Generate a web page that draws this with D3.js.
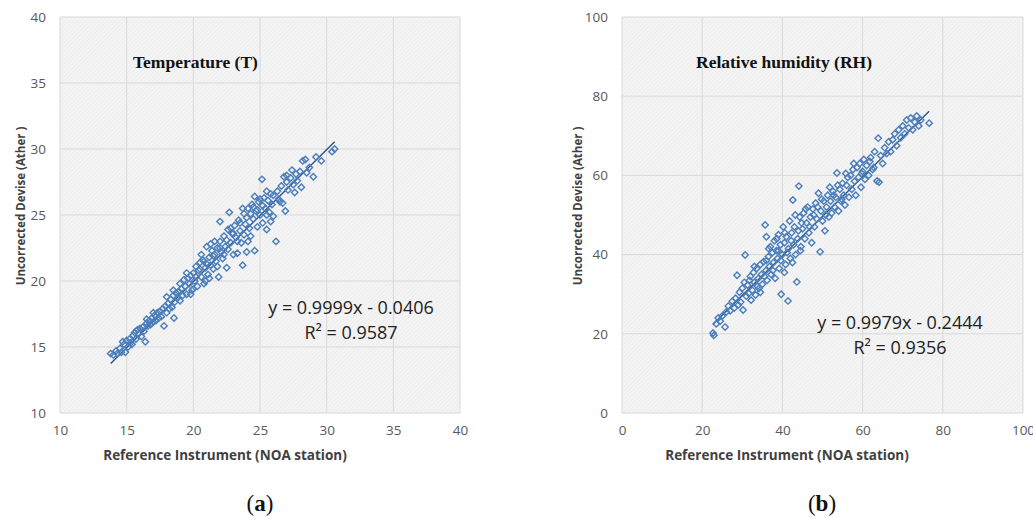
<!DOCTYPE html>
<html><head><meta charset="utf-8">
<script src="https://cdn.jsdelivr.net/npm/d3@7"></script>
<style>
body{margin:0;background:#fff;}
svg{display:block;}
</style></head>
<body>
<svg id="c" width="1033" height="518"></svg>
<script>
// ---------------- DATA ----------------
const tempTitle = "Temperature (T)";
const humTitle = "Relative humidity (RH)";
const xAxisTitle = "Reference Instrument (NOA station)";
const yAxisTitle = "Uncorrected Devise (Ather )";
const tempTicks = [10, 15, 20, 25, 30, 35, 40];
const humTicks = [0, 20, 40, 60, 80, 100];
const tempFit = {slope: 0.9999, intercept: -0.0406, r2: 0.9587, x0: 13.8, x1: 30.6};
const humFit = {slope: 0.9979, intercept: -0.2444, r2: 0.9356, x0: 22.7, x1: 76.6};
const tempEq = ["y = 0.9999x - 0.0406", "R² = 0.9587"];
const humEq = ["y = 0.9979x - 0.2444", "R² = 0.9356"];
const captions = ["a", "b"];

const tempX = [13.8,14.0,14.2,14.3,14.5,14.6,14.8,14.9,15.0,15.1,15.2,15.3,15.5,15.6,15.7,15.8,15.9,16.0,16.1,16.2,16.3,16.4,16.5,16.6,16.7,16.8,16.9,17.0,17.1,17.2,17.3,17.4,17.5,17.6,17.7,17.8,17.9,18.0,18.1,18.2,18.3,18.4,18.5,18.55,18.6,18.7,18.8,18.9,19.0,19.1,19.2,19.3,19.4,19.5,19.6,19.7,19.8,19.9,20.0,20.1,20.2,20.3,20.4,20.5,20.6,20.7,20.8,20.9,21.0,21.1,21.2,21.3,21.4,21.5,21.6,21.7,21.8,21.9,22.0,22.1,22.2,22.3,22.4,22.5,22.6,22.7,22.8,22.9,23.0,23.1,23.2,23.3,23.4,23.5,23.6,23.7,23.8,23.9,24.0,24.1,24.2,24.3,24.4,24.5,24.6,24.7,24.8,24.9,25.0,25.15,25.2,25.3,25.4,25.5,25.6,25.7,25.8,25.9,26.0,26.2,26.3,26.4,26.6,26.7,26.9,27.0,27.1,27.3,27.5,27.6,27.7,27.8,28.0,28.1,28.2,28.4,28.5,28.7,29.0,29.2,29.6,30.4,30.6,
19.0,19.5,20.0,20.2,20.5,20.8,21.0,21.2,21.5,21.8,22.0,22.3,22.5,22.8,23.0,23.3,23.5,23.8,24.0,24.3,24.5,24.8,25.0,25.2,25.5,25.8,26.0,26.5,27.0,27.4,22.0,21.6,21.3,20.6,23.7,24.6,25.5,26.8,18.0,18.5,17.0,16.5,15.4,14.7,19.8,20.9,22.6,24.1];
const tempY = [14.5,14.4,14.7,14.5,14.9,14.6,15.2,14.6,15.5,15.0,15.6,15.3,15.9,16.1,15.6,16.3,16.0,16.4,15.8,16.5,16.2,15.4,16.8,16.6,17.0,16.7,17.2,16.9,17.4,17.0,17.6,17.2,17.7,17.3,17.9,16.6,18.1,17.6,18.3,17.9,18.6,18.0,18.9,17.2,18.4,19.1,18.7,19.2,18.5,19.4,18.9,20.1,19.6,19.0,20.2,19.8,20.4,19.3,20.6,20.0,21.1,19.6,20.8,21.4,20.3,21.6,19.8,21.0,22.6,20.5,21.8,21.2,22.3,20.9,22.0,21.5,22.5,20.3,23.0,22.2,21.7,23.4,22.6,21.0,23.9,25.2,22.9,23.6,22.0,24.2,23.3,22.1,24.6,23.8,22.9,21.2,25.1,24.3,22.2,25.5,24.0,23.4,25.8,24.7,22.3,25.3,24.1,26.0,25.0,27.7,24.4,26.3,25.5,23.9,26.1,25.2,26.6,25.8,24.9,23.0,26.8,26.2,27.2,25.9,25.3,27.5,26.9,27.8,27.3,26.7,28.1,27.6,28.3,27.1,29.1,29.2,28.2,28.6,27.9,29.4,29.1,29.8,30.0,
19.8,20.6,19.4,20.3,20.9,21.5,21.3,20.2,21.9,21.1,22.5,22.0,23.1,24.0,23.6,23.0,24.4,23.5,24.8,25.1,25.6,25.4,26.2,25.7,25.0,24.5,26.5,26.0,28.0,28.4,24.5,23.0,22.8,22.0,25.5,26.4,26.8,27.9,18.8,19.3,17.6,17.1,15.2,15.4,19.0,20.0,22.4,23.0];

const humX = [22.7,22.9,23.5,24.0,24.5,25.0,25.7,26.0,26.5,27.0,27.5,28.0,28.3,28.7,29.0,29.3,29.6,30.0,30.2,30.5,30.7,31.0,31.3,31.6,32.0,32.2,32.5,32.8,33.0,33.3,33.6,34.0,34.2,34.5,34.8,35.0,35.3,35.7,35.9,36.0,36.2,36.5,36.8,37.0,37.2,37.5,37.8,38.0,38.2,38.5,38.8,39.0,39.2,39.5,39.7,40.0,40.2,40.5,40.8,41.0,41.4,41.5,41.8,42.0,42.3,42.6,42.8,43.0,43.3,43.6,43.8,44.1,44.3,44.6,45.0,45.3,45.6,46.0,46.3,46.6,47.0,47.3,47.6,48.0,48.3,48.6,49.0,49.4,49.6,50.0,50.3,50.6,51.0,51.3,51.6,52.0,52.3,52.6,53.0,53.3,53.6,54.0,54.3,54.6,55.0,55.3,55.6,56.0,56.3,56.6,57.0,57.3,57.6,58.0,58.3,58.6,59.0,59.3,59.6,60.0,60.3,60.6,61.0,61.5,62.0,62.5,63.0,63.6,63.9,64.1,64.5,65.0,65.5,66.0,66.5,67.0,67.5,68.0,68.5,69.0,69.5,70.0,70.5,71.0,71.5,72.0,72.5,73.0,73.5,74.0,74.5,76.6,
31.8,33.8,35.5,36.6,37.6,38.6,39.6,40.6,41.2,42.2,43.2,44.0,44.8,45.8,46.8,47.8,48.8,49.8,50.8,51.8,52.8,53.8,54.8,55.8,57.8,59.8,61.8,62.8,33.0,34.5,36.0,39.0,40.5,42.5,44.5];
const humY = [20.2,19.6,22.5,24.0,23.2,24.5,21.7,25.5,27.0,25.8,28.2,26.5,29.0,34.8,27.3,30.5,28.0,31.5,26.0,33.0,39.9,29.5,32.3,30.2,34.5,28.5,31.0,35.5,33.0,29.8,36.5,34.0,31.5,37.5,35.0,32.5,38.2,47.5,36.0,44.5,33.5,39.5,37.0,42.0,35.0,40.5,38.0,43.5,34.0,41.0,39.0,45.0,36.5,42.5,30.0,40.0,47.0,43.0,37.5,44.5,28.3,41.5,48.5,39.0,45.5,53.8,42.5,47.0,40.0,33.1,44.0,57.3,49.5,42.0,46.5,50.5,44.0,48.0,52.0,45.5,49.5,43.0,51.5,47.0,53.0,49.0,55.5,40.7,51.0,48.5,53.5,46.0,52.0,55.0,49.5,53.5,50.5,56.0,52.0,54.5,60.6,51.0,56.5,53.5,58.0,55.0,52.5,57.5,59.5,54.5,60.0,56.5,61.5,58.5,55.0,62.0,59.5,63.0,57.0,61.0,64.0,59.0,62.5,60.0,64.5,61.5,66.0,58.6,69.4,58.3,65.0,63.0,67.0,65.5,68.5,66.0,69.0,70.5,67.5,71.5,69.5,72.5,70.5,74.0,72.0,74.5,71.5,73.5,75.0,72.5,74.0,73.2,
33.5,32.0,34.5,41.5,36.0,44.0,38.5,45.5,40.5,43.5,50.0,46.0,48.0,51.5,47.0,50.0,52.0,54.0,50.0,57.0,55.0,57.5,54.0,60.5,63.0,60.5,63.5,62.0,37.0,30.5,38.5,41.0,35.5,38.0,41.0];

// ---------------- DRAW ----------------
const svg = d3.select("#c");
const FONT = "'Open Sans', 'Liberation Sans', sans-serif";
const SERIF = "'Liberation Serif', 'DejaVu Serif', serif";

const defs = svg.append("defs");
const pat = defs.append("pattern").attr("id","hatch").attr("patternUnits","userSpaceOnUse")
  .attr("width",3).attr("height",3).attr("patternTransform","rotate(45)");
pat.append("rect").attr("width",3).attr("height",3).attr("fill","#f4f4f4");
pat.append("line").attr("x1",0).attr("y1",0).attr("x2",0).attr("y2",3)
  .attr("stroke","#e6e6e6").attr("stroke-width",1);

function panel(cfg){
  const x = d3.scaleLinear().domain(cfg.domain).range([cfg.left, cfg.right]);
  const y = d3.scaleLinear().domain(cfg.domain).range([cfg.bottom, cfg.top]);
  const g = svg.append("g");

  g.append("rect").attr("x",cfg.left).attr("y",cfg.top)
    .attr("width",cfg.right-cfg.left).attr("height",cfg.bottom-cfg.top)
    .attr("fill","url(#hatch)");

  // gridlines
  g.append("g").selectAll("line").data(cfg.ticks).join("line")
    .attr("x1",d=>x(d)).attr("x2",d=>x(d)).attr("y1",cfg.top).attr("y2",cfg.bottom)
    .attr("stroke","#d9d9d9").attr("stroke-width",1);
  g.append("g").selectAll("line").data(cfg.ticks).join("line")
    .attr("y1",d=>y(d)).attr("y2",d=>y(d)).attr("x1",cfg.left).attr("x2",cfg.right)
    .attr("stroke","#d9d9d9").attr("stroke-width",1);

  // axes (labels only)
  const xa = g.append("g").attr("transform",`translate(0,${cfg.bottom})`)
    .call(d3.axisBottom(x).tickValues(cfg.ticks).tickSize(0).tickPadding(12));
  const ya = g.append("g").attr("transform",`translate(${cfg.left},0)`)
    .call(d3.axisLeft(y).tickValues(cfg.ticks).tickSize(0).tickPadding(14));
  [xa,ya].forEach(a=>{
    a.select(".domain").remove();
    a.selectAll("text").attr("font-family",FONT).attr("font-size",13.5).attr("fill","#595959");
  });

  // trendline
  const f = cfg.fit;
  g.append("line")
    .attr("x1",x(f.x0)).attr("y1",y(f.slope*f.x0+f.intercept))
    .attr("x2",x(f.x1)).attr("y2",y(f.slope*f.x1+f.intercept))
    .attr("stroke","#2e4f86").attr("stroke-width",1.4);

  // points (open diamonds)
  const pts = cfg.xs.map((v,i)=>[v,cfg.ys[i]]);
  const s = 3.2;
  g.append("g").selectAll("path").data(pts).join("path")
    .attr("d",d=>{const cx=x(d[0]), cy=y(d[1]);
      return `M${cx},${cy-s}L${cx+s},${cy}L${cx},${cy+s}L${cx-s},${cy}Z`;})
    .attr("fill","none").attr("stroke","#4a7ebb").attr("stroke-width",1.4);

  // chart title
  g.append("text").attr("x",cfg.titleX).attr("y",68).text(cfg.title)
    .attr("font-family",SERIF).attr("font-weight","bold").attr("font-size",17.5).attr("fill","#111");

  // equation
  g.append("text").attr("x",cfg.eqX).attr("y",cfg.eqY).attr("text-anchor","middle")
    .attr("font-family",FONT).attr("font-size",18).attr("fill","#222").text(cfg.eq[0]);
  g.append("text").attr("x",cfg.eqX).attr("y",cfg.eqY+25).attr("text-anchor","middle")
    .attr("font-family",FONT).attr("font-size",18).attr("fill","#222").text(cfg.eq[1]);

  // axis titles
  g.append("text").attr("x",cfg.xTitleX).attr("y",460).attr("text-anchor","middle")
    .attr("font-family",FONT).attr("font-weight","bold").attr("font-size",13.5).attr("fill","#404040")
    .text(xAxisTitle);
  g.append("text").attr("transform",`translate(${cfg.yTitleX},206) rotate(-90)`).attr("text-anchor","middle")
    .attr("font-family",FONT).attr("font-weight","bold").attr("font-size",11.5).attr("fill","#404040")
    .text(yAxisTitle);

  // caption
  const cap = g.append("text").attr("x",cfg.capX).attr("y",511).attr("text-anchor","middle")
    .attr("font-family",SERIF).attr("font-size",23).attr("fill","#111");
  cap.append("tspan").text("(");
  cap.append("tspan").attr("font-weight","bold").text(cfg.cap);
  cap.append("tspan").text(")");
}

panel({domain:[10,40], ticks:tempTicks, left:60, right:460, top:17, bottom:413,
  xs:tempX, ys:tempY, fit:tempFit, title:tempTitle, titleX:133, eq:tempEq, eqX:351, eqY:314,
  xTitleX:225, yTitleX:25, capX:260, cap:captions[0]});
panel({domain:[0,100], ticks:humTicks, left:622, right:1023, top:17, bottom:413,
  xs:humX, ys:humY, fit:humFit, title:humTitle, titleX:696, eq:humEq, eqX:900, eqY:329,
  xTitleX:787, yTitleX:582, capX:822, cap:captions[1]});
</script>
</body></html>
